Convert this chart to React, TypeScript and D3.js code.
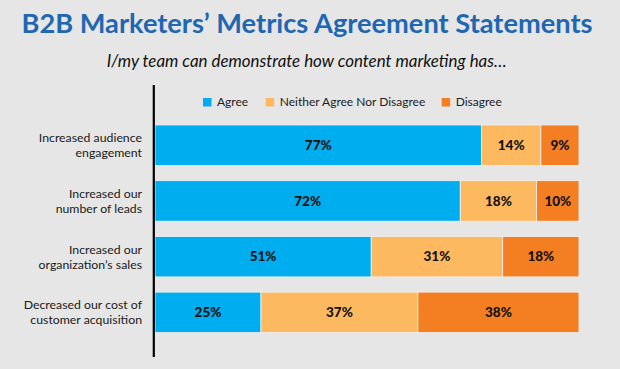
import React from "react";
import * as d3 from "d3";

const categories = [
  "Increased audience\nengagement",
  "Increased our\nnumber of leads",
  "Increased our\norganization’s sales",
  "Decreased our cost of\ncustomer acquisition",
];
const seriesNames = ["Agree", "Neither Agree Nor Disagree", "Disagree"];
const agree = [77, 72, 51, 25];
const neither = [14, 18, 31, 37];
const disagree = [9, 10, 18, 38];
const colors = ["#00ADEE", "#FDB95F", "#F47F22"];

const W = 620;
const H = 369;

export default function App() {
  const x = d3.scaleLinear().domain([0, 100]).range([155, 579]);
  const y = d3.scaleBand<string>().domain(categories).range([117.4, 340.2]).paddingInner(0.273).paddingOuter(0.136);
  const rows = categories.map((c, i) => ({ c, agree: agree[i], neither: neither[i], disagree: disagree[i] }));
  const stack = d3.stack<any>().keys(["agree", "neither", "disagree"])(rows);
  const legendX = [203, 265.7, 441.7];
  const font = "Lato, 'Open Sans', sans-serif";

  return (
    <svg width={W} height={H} style={{ position: "absolute", left: 0, top: 0 }} fontFamily={font}>
      <rect width={W} height={H} fill="#E6E6E6" />
      <text x={307} y={33} textAnchor="middle" fontSize={27} fontWeight={700} fill="#1F67B1"
        textLength={571} lengthAdjust="spacingAndGlyphs">
        B2B Marketers’ Metrics Agreement Statements
      </text>
      <text x={306.7} y={66.5} textAnchor="middle" fontSize={17} fontStyle="italic" fill="#111"
        textLength={400} lengthAdjust="spacingAndGlyphs">
        I/my team can demonstrate how content marketing has…
      </text>
      {seriesNames.map((s, i) => (
        <g key={s} transform={`translate(${legendX[i]},98)`}>
          <rect width={8.5} height={8.5} fill={colors[i]} />
          <text x={14} y={8.3} fontSize={12} fill="#222">{s}</text>
        </g>
      ))}
      {stack.map((layer, li) => (
        <g key={li}>
          {layer.map((d, i) => {
            const x0 = x(d[0]);
            const x1 = x(d[1]);
            const yy = y(categories[i])!;
            return (
              <g key={i}>
                <rect x={x0} y={yy} width={x1 - x0} height={y.bandwidth()} fill={colors[li]}
                  stroke="#F2F2F2" strokeWidth={0.8} />
                <text x={(x0 + x1) / 2} y={yy + y.bandwidth() / 2 + 4.8} textAnchor="middle"
                  fontSize={13.5} fontWeight={900} fill="#111">
                  {`${d[1] - d[0]}%`}
                </text>
              </g>
            );
          })}
        </g>
      ))}
      {categories.map((c) => {
        const cy = y(c)! + y.bandwidth() / 2;
        return (
          <text key={c} textAnchor="end" fontSize={12.3} fill="#1a1a1a">
            {c.split("\n").map((line, j) => (
              <tspan key={j} x={142} y={cy - 3 + j * 15}>{line}</tspan>
            ))}
          </text>
        );
      })}
      <line x1={153.8} x2={153.8} y1={85} y2={357} stroke="#000" strokeWidth={2.2} />
    </svg>
  );
}
